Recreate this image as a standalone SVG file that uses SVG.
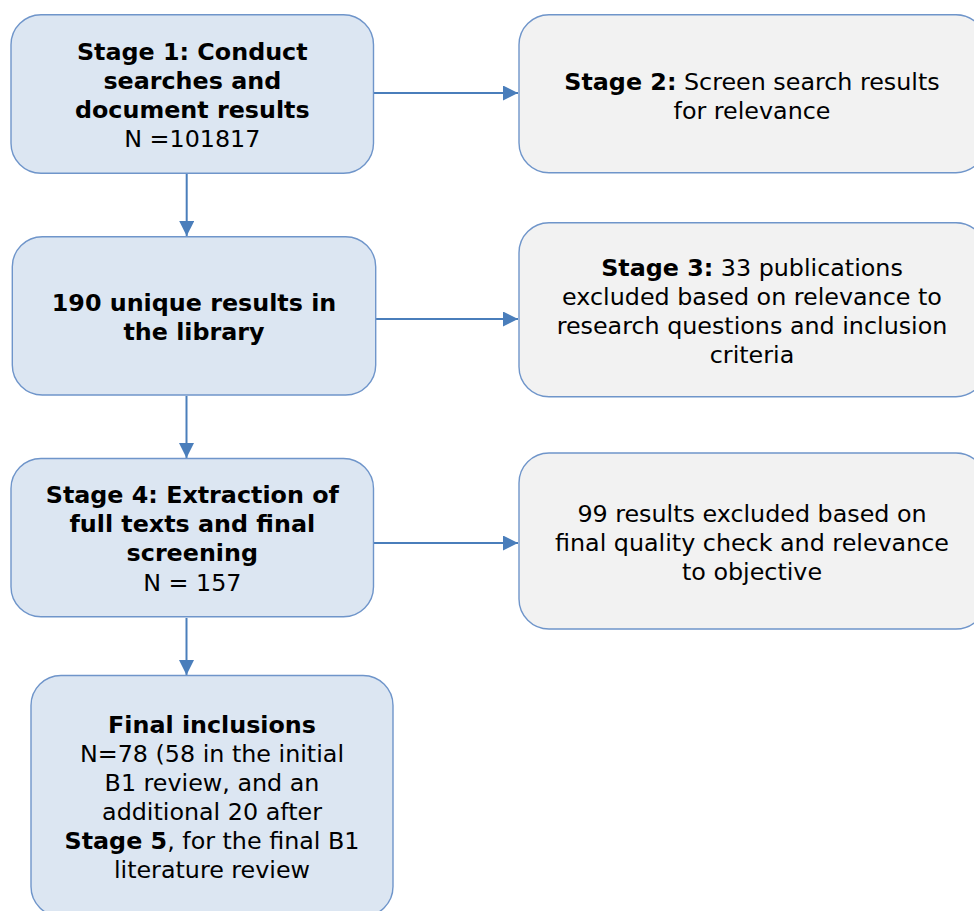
<svg xmlns="http://www.w3.org/2000/svg" width="974" height="911" viewBox="0 0 974 911">
<defs>
<style>
.bl{fill:#DCE6F2;stroke:#6F95CA;stroke-width:1.4}
.gr{fill:#F2F2F2;stroke:#6F95CA;stroke-width:1.4}
text{font-family:"DejaVu Sans",Verdana,sans-serif;font-size:23.8px;fill:#000;text-anchor:middle}
.b{font-weight:bold}
.c{stroke:#4A7EBB;stroke-width:2;fill:none;marker-end:url(#ah)}
</style>
<marker id="ah" markerUnits="userSpaceOnUse" markerWidth="16" markerHeight="16" refX="15" refY="7.5" orient="auto">
<path d="M0,0 L15,7.5 L0,15 Z" fill="#4A7EBB"/>
</marker>
</defs>
<rect width="974" height="911" fill="#fff"/>
<g id="connectors">
<line class="c" x1="374" y1="93" x2="518" y2="93"/>
<line class="c" x1="186.7" y1="174" x2="186.7" y2="236"/>
<line class="c" x1="376" y1="319" x2="518" y2="319"/>
<line class="c" x1="186.5" y1="396" x2="186.5" y2="458"/>
<line class="c" x1="374" y1="543" x2="518" y2="543"/>
<line class="c" x1="186.5" y1="618" x2="186.5" y2="675"/>
</g>
<g id="stage1">
<rect class="bl" x="11" y="14.7" width="362.5" height="158.5" rx="30" ry="30"/>
<text x="192.3" y="60" class="b">Stage 1: Conduct</text>
<text x="192.3" y="89" class="b">searches and</text>
<text x="192.3" y="118" class="b">document results</text>
<text x="192.3" y="147">N =101817</text>
</g>
<g id="stage2">
<rect class="gr" x="519" y="14.7" width="467" height="158" rx="30" ry="30"/>
<text x="752" y="90"><tspan class="b">Stage 2:</tspan> Screen search results</text>
<text x="752" y="119">for relevance</text>
</g>
<g id="library">
<rect class="bl" x="12.3" y="236.7" width="363.4" height="158.3" rx="30" ry="30"/>
<text x="194" y="311" class="b">190 unique results in</text>
<text x="194" y="339.5" class="b">the library</text>
</g>
<g id="stage3">
<rect class="gr" x="519" y="222.7" width="467" height="174" rx="30" ry="30"/>
<text x="752" y="276"><tspan class="b">Stage 3:</tspan> 33 publications</text>
<text x="752" y="305">excluded based on relevance to</text>
<text x="752" y="334">research questions and inclusion</text>
<text x="752" y="363">criteria</text>
</g>
<g id="stage4">
<rect class="bl" x="11" y="458.5" width="362.5" height="158.3" rx="30" ry="30"/>
<text x="192.3" y="503" class="b">Stage 4: Extraction of</text>
<text x="192.3" y="532" class="b">full texts and final</text>
<text x="192.3" y="561" class="b">screening</text>
<text x="192.3" y="591">N = 157</text>
</g>
<g id="excluded">
<rect class="gr" x="519" y="453" width="467" height="176" rx="30" ry="30"/>
<text x="752" y="521.5">99 results excluded based on</text>
<text x="752" y="550.5">final quality check and relevance</text>
<text x="752" y="579.5">to objective</text>
</g>
<g id="final">
<rect class="bl" x="31" y="675.5" width="362" height="241" rx="30" ry="30"/>
<text x="212" y="733" class="b">Final inclusions</text>
<text x="212" y="762">N=78 (58 in the initial</text>
<text x="212" y="791">B1 review, and an</text>
<text x="212" y="820">additional 20 after</text>
<text x="212" y="849"><tspan class="b">Stage 5</tspan>, for the final B1</text>
<text x="212" y="878">literature review</text>
</g>
</svg>
